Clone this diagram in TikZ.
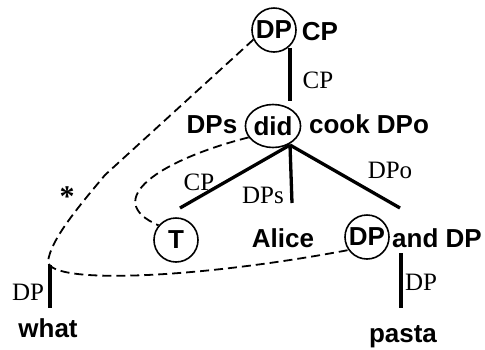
\documentclass[tikz,border=0pt]{standalone}
\usepackage{fontspec}
\setmainfont{Liberation Serif}
\setsansfont{Liberation Sans}
\usepackage{tikz}
\usetikzlibrary{shapes.geometric}

\begin{document}
\begin{tikzpicture}[x=1pt,y=-1pt,
      word/.style={font=\fontsize{26}{26}\selectfont\sffamily\bfseries, inner sep=0pt},
      ring/.style={word, draw, circle, line width=1.6pt, minimum size=44pt},
      lab/.style={font=\fontsize{25}{25}\selectfont, inner sep=0pt, anchor=base},
      branch/.style={line width=3.3pt},
      link/.style={line width=1.8pt, dash pattern=on 9pt off 5pt}]
      \useasboundingbox (0,0) rectangle (485,349);
      \node[name=dpTop, ring] at (274,30) {DP};
      \node[name=cpTop, word, anchor=base] at (320,40) {CP};
      \node[name=did, word, draw, ellipse, line width=1.6pt, minimum width=52pt, minimum height=43pt] at (273,126) {did};
      \node[name=dps, word, anchor=base] at (212,133) {DPs};
      \node[name=cook, word, anchor=base] at (369,133) {cook DPo};
      \node[name=t, ring] at (176,240) {T};
      \node[name=alice, word, anchor=base] at (283,247) {Alice};
      \node[name=dpBot, ring] at (367,237) {DP};
      \node[name=andDP, word, anchor=base] at (437,247) {and DP};
      \node[name=what, word, anchor=base] at (48,337) {what};
      \node[name=pasta, word, anchor=base] at (403,342) {pasta};
      % branch ends
      \coordinate (cpFoot) at (290,48);
      \coordinate (didHead) at (290,101);
      \coordinate (root) at (290,145);
      \coordinate (tEnd) at (180,208);
      \coordinate (aliceEnd) at (292,203);
      \coordinate (dpoEnd) at (400,208);
      \coordinate (andFoot) at (401,253);
      \coordinate (pastaHead) at (401,308);
      \coordinate (whatTop) at (50,265);
      \coordinate (whatHead) at (50,308);
      \draw[branch] (cpFoot) -- (didHead);
      \draw[branch] (root) -- (tEnd);
      \draw[branch] (root) -- (aliceEnd);
      \draw[branch] (root) -- (dpoEnd);
      \draw[branch] (andFoot) -- (pastaHead);
      \draw[branch] (whatTop) -- (whatHead);
      % edge labels
      \node[name=lCP, lab] at (318,88) {CP};
      \node[name=lCPt, lab] at (199,190) {CP};
      \node[name=lDPs, lab] at (263,203) {DPs};
      \node[name=lDPo, lab] at (390,178) {DPo};
      \node[name=lDPr, lab] at (421,290) {DP};
      \node[name=lDPl, lab] at (28,300) {DP};
      \node[name=star, font=\fontsize{30}{30}\selectfont\bfseries, inner sep=0pt] at (67,197) {*};
      % movement paths
      \coordinate (bend) at (105,175);
      \coordinate (turn) at (48,262);
      \draw[link] (dpTop.205) -- (bend) .. controls (80,205) and (50,240) .. (turn)
            .. controls (52,285) and (200,278) .. (dpBot.215);
      \draw[link] (did.205) .. controls (160,160) and (100,200) .. (t.140);
   \end{tikzpicture}
\end{document}
